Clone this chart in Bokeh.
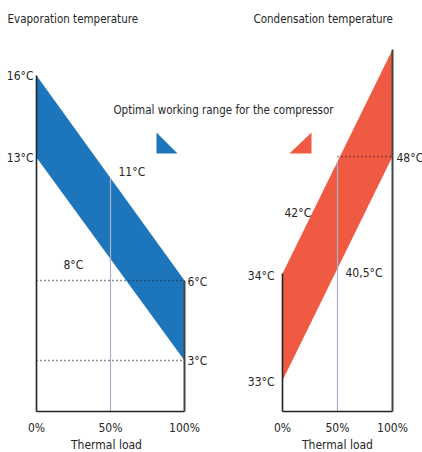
import numpy as np
from bokeh.plotting import figure
from bokeh.models import Range1d
from bokeh.core.properties import value
from bokeh.embed import file_html
from bokeh.resources import INLINE

# ---------------- data ----------------
load_ticks = [0, 50, 100]
load_tick_labels = ["0%", "50%", "100%"]
evap_upper = [16, 6]      # °C at 0% / 100% thermal load (upper edge)
evap_lower = [13, 3]      # °C at 0% / 100% thermal load (lower edge)
evap_mid = [11, 8]        # upper / lower edge at 50 %
cond_upper = [34, 50]
cond_lower = [33, 48]
cond_mid = [42, 40.5]
titles = ["Evaporation temperature", "Condensation temperature"]
legend_label = "Optimal working range for the compressor"
x_label = "Thermal load"

# ---------------- layout (schematic) ----------------
FONT = value("DejaVu Sans Condensed")
FS = "12px"
FS_LONG = "11.5px"
TXT = "#262626"
BLUE = "#1d76bc"
RED = "#f15a42"
AXIS = "#222222"
MIDLINE = "#a3b3c9"

EVAP = dict(x0=36, x1=184, bottom=411, level={16: 75, 13: 157, 6: 280, 3: 360})
COND = dict(x0=282, x1=392, bottom=411, level={50: 49, 34: 273, 48: 156, 33: 380})


def lx(panel, load):
    return panel["x0"] + np.asarray(load, dtype=float) / 100.0 * (panel["x1"] - panel["x0"])


def ly(panel, t):
    return panel["level"][t]


def fmt(t):
    s = ("%g" % t).replace(".", ",")
    return s + "°C"


p = figure(width=422, height=452, x_range=Range1d(0, 422), y_range=Range1d(452, 0),
           output_backend="svg", toolbar_location=None, min_border=0)
p.axis.visible = False
p.grid.visible = False
p.outline_line_color = None
p.background_fill_color = "white"


def text(x, y, s, align="left", size=FS, baseline="middle"):
    p.text(x=[x], y=[y], text=[s], text_font=FONT, text_font_size=size,
           text_color=TXT, text_align=align, text_baseline=baseline)


# ---- evaporation panel ----
P = EVAP
uy = [ly(P, evap_upper[0]), ly(P, evap_upper[1])]
ly_ = [ly(P, evap_lower[0]), ly(P, evap_lower[1])]
p.patch([lx(P, 0), lx(P, 100), lx(P, 100), lx(P, 0)], [uy[0], uy[1], ly_[1], ly_[0]],
        fill_color=BLUE, line_color=None)
mid_u = (uy[0] + uy[1]) / 2
mid_l = (ly_[0] + ly_[1]) / 2
p.segment(x0=[lx(P, 50)], y0=[mid_u], x1=[lx(P, 50)], y1=[P["bottom"]], line_color=MIDLINE, line_width=1.2)
for yy in (uy[1], ly_[1]):
    p.segment(x0=[lx(P, 0)], y0=[yy], x1=[lx(P, 100)], y1=[yy], line_color=AXIS,
              line_width=1.3, line_dash="1 3")
p.segment(x0=[lx(P, 0)], y0=[uy[0]], x1=[lx(P, 0)], y1=[P["bottom"]], line_color=AXIS, line_width=1.6)
p.segment(x0=[lx(P, 0)], y0=[P["bottom"]], x1=[lx(P, 100)], y1=[P["bottom"]], line_color=AXIS, line_width=1.6)
p.segment(x0=[lx(P, 100)], y0=[uy[1]], x1=[lx(P, 100)], y1=[P["bottom"]], line_color="#444444", line_width=2)
text(lx(P, 0) - 3, uy[0], fmt(evap_upper[0]), align="right")
text(lx(P, 0) - 3, ly_[0], fmt(evap_lower[0]), align="right")
text(lx(P, 100) + 3, uy[1] + 1, fmt(evap_upper[1]))
text(lx(P, 100) + 3, ly_[1], fmt(evap_lower[1]))
text(lx(P, 50) + 8, mid_u - 6, fmt(evap_mid[0]))
text(lx(P, 50) - 47, mid_l + 6, fmt(evap_mid[1]))
for t, lab in zip(load_ticks, load_tick_labels):
    text(lx(P, t), 427, lab, align="center")
text(lx(P, 50) - 4, 444, x_label, align="center")
text(7, 18, titles[0], size=FS_LONG)

# ---- condensation panel ----
P = COND
uy = [ly(P, cond_upper[0]), ly(P, cond_upper[1])]
ly_ = [ly(P, cond_lower[0]), ly(P, cond_lower[1])]
p.patch([lx(P, 0), lx(P, 100), lx(P, 100), lx(P, 0)], [uy[0], uy[1], ly_[1], ly_[0]],
        fill_color=RED, line_color=None)
mid_u = (uy[0] + uy[1]) / 2
mid_l = (ly_[0] + ly_[1]) / 2
p.segment(x0=[lx(P, 50)], y0=[mid_u], x1=[lx(P, 50)], y1=[P["bottom"]], line_color=MIDLINE, line_width=1.2)
p.segment(x0=[lx(P, 50)], y0=[ly_[1]], x1=[lx(P, 100)], y1=[ly_[1]], line_color=AXIS,
          line_width=1.3, line_dash="1 3")
p.segment(x0=[lx(P, 0)], y0=[uy[0]], x1=[lx(P, 0)], y1=[P["bottom"]], line_color=AXIS, line_width=1.6)
p.segment(x0=[lx(P, 0)], y0=[P["bottom"]], x1=[lx(P, 100)], y1=[P["bottom"]], line_color=AXIS, line_width=1.6)
p.segment(x0=[lx(P, 100)], y0=[uy[1]], x1=[lx(P, 100)], y1=[P["bottom"]], line_color="#444444", line_width=2)
text(lx(P, 0) - 8, uy[0] + 2, fmt(cond_upper[0]), align="right")
text(lx(P, 0) - 8, ly_[0] + 1, fmt(cond_lower[0]), align="right")
text(lx(P, 100) + 4, ly_[1] + 1, fmt(cond_lower[1]))
text(lx(P, 0) + 2, mid_u + 51, fmt(cond_mid[0]))
text(lx(P, 50) + 8, mid_l + 4, fmt(cond_mid[1]))
for t, lab in zip(load_ticks, load_tick_labels):
    text(lx(P, t), 427, lab, align="center")
text(lx(P, 50), 444, x_label, align="center")
text(253, 18, titles[1], size=FS_LONG)

# ---- legend ----
text(223, 109, legend_label, align="center", size=FS_LONG)
p.patch([156, 156, 177], [132, 153, 153], fill_color=BLUE, line_color=None)
p.patch([311, 311, 289], [132, 153, 153], fill_color=RED, line_color=None)

open("out.html", "w").write(file_html(p, INLINE))
